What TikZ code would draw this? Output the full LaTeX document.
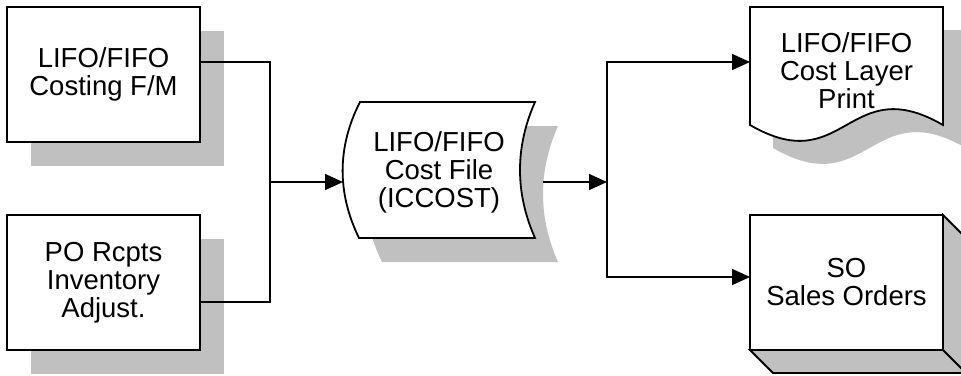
\documentclass[tikz,border=0pt]{standalone}
\usepackage{fontspec}
\setmainfont{Liberation Sans}
\usepackage{tikz}
\usetikzlibrary{arrows.meta,calc}
\definecolor{shadowgray}{RGB}{192,192,192}

\begin{document}
\begin{tikzpicture}[x=1pt, y=-1pt, >={Triangle[length=18pt,width=16pt]},
    shade/.style={fill=shadowgray, draw=none},
    procbox/.style={draw, line width=1.8pt, fill=white, outer sep=0pt,
        minimum width=193pt, minimum height=135pt, align=center,
        font=\fontsize{27.5}{28}\selectfont},
    label/.style={outer sep=0pt, align=center, font=\fontsize{27.5}{28}\selectfont},
    outline/.style={draw, line width=1.8pt, fill=white},
    depth/.style={draw, line width=1.8pt, fill=shadowgray, line join=miter},
    wire/.style={line width=1.6pt}]
    \useasboundingbox (0,0) rectangle (961,375);

    \fill[shade] (31,31) rectangle (224,166);
    \fill[shade] (31,239) rectangle (224,374);
    \node[procbox] (costing) at (103.5,74.5) {LIFO/FIFO\\Costing F/M};
    \node[procbox] (porcpts) at (103.5,282.5) {PO Rcpts\\Inventory\\Adjust.};

    \path[shade, xshift=23pt, yshift=-24pt] (360,102) -- (535,102)
        .. controls (515,147) and (515,193) .. (535,238) -- (359,238)
        .. controls (337,193) and (337,147) .. (360,102) -- cycle;
    \path[outline] (360,102) -- (535,102)
        .. controls (515,147) and (515,193) .. (535,238) -- (359,238)
        .. controls (337,193) and (337,147) .. (360,102) -- cycle;
    \node[label, minimum width=192pt, minimum height=136pt] (costfile) at (439,172)
        {LIFO/FIFO\\Cost File\\(ICCOST)};

    \path[shade, xshift=23pt, yshift=-23pt] (750,7) -- (943,7) -- (943,125)
        .. controls (848,70) and (845,180) .. (750,125) -- cycle;
    \path[outline] (750,7) -- (943,7) -- (943,125)
        .. controls (848,70) and (845,180) .. (750,125) -- cycle;
    \node[label, minimum width=193pt] (layerprint) at (846.5,71)
        {LIFO/FIFO\\Cost Layer\\Print};

    \node[procbox] (salesorders) at (846.5,282.5) {SO\\Sales Orders};
    \path[depth] (salesorders.south west) -- ++(23,23) -- ++(193,0) -- ++(0,-135)
        -- (salesorders.north east) -- (salesorders.south east) -- cycle;
    \draw[line width=1.8pt] (salesorders.south east) -- ++(23,23);

    \coordinate (jointop) at (270,62);
    \coordinate (joinbot) at (270,302);
    \coordinate (join) at (270,182);
    \coordinate (forktop) at (607,62);
    \coordinate (forkbot) at (607,277);
    \coordinate (fork) at (607,182);

    \draw[wire] (costing.east |- jointop) -- (jointop) -- (joinbot) -- (porcpts.east |- joinbot);
    \draw[wire, ->] (join) -- (costfile.west |- join);
    \draw[wire, ->] ($(costfile.east |- fork)+(8,0)$) -- (fork);
    \draw[wire, <->] (layerprint.west |- forktop) -- (forktop) -- (forkbot)
        -- (salesorders.west |- forkbot);
\end{tikzpicture}
\end{document}
